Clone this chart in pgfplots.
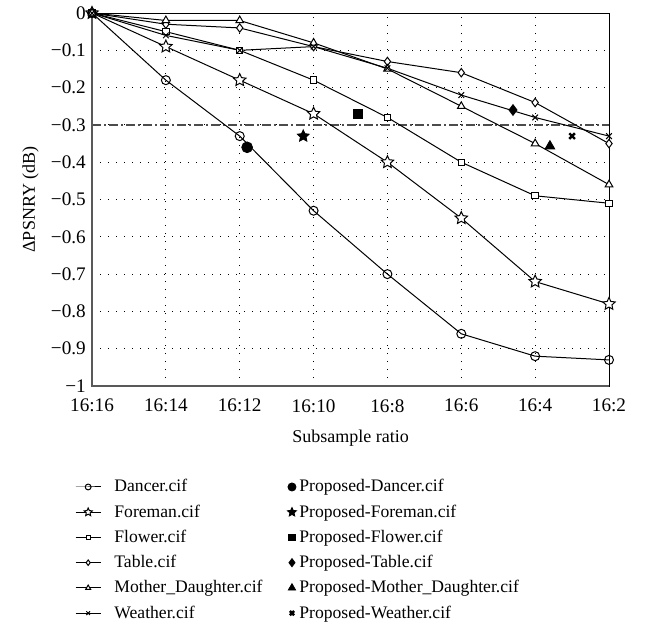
\documentclass[border=0pt]{standalone}
\usepackage{fontspec}
\setmainfont{Liberation Serif}
\usepackage{pgfplots}
\pgfplotsset{compat=1.18}
\pgfdeclareplotmark{ostar}{%
 \pgfpathmoveto{\pgfpointpolar{90}{1.25\pgfplotmarksize}}%
 \pgfpathlineto{\pgfpointpolar{126}{0.6\pgfplotmarksize}}%
 \pgfpathlineto{\pgfpointpolar{162}{1.25\pgfplotmarksize}}%
 \pgfpathlineto{\pgfpointpolar{198}{0.6\pgfplotmarksize}}%
 \pgfpathlineto{\pgfpointpolar{234}{1.25\pgfplotmarksize}}%
 \pgfpathlineto{\pgfpointpolar{270}{0.6\pgfplotmarksize}}%
 \pgfpathlineto{\pgfpointpolar{306}{1.25\pgfplotmarksize}}%
 \pgfpathlineto{\pgfpointpolar{342}{0.6\pgfplotmarksize}}%
 \pgfpathlineto{\pgfpointpolar{18}{1.25\pgfplotmarksize}}%
 \pgfpathlineto{\pgfpointpolar{54}{0.6\pgfplotmarksize}}%
 \pgfpathclose
 \pgfusepathqfillstroke}
\pgfplotsset{
 lin/.style={black, line width=0.5pt, mark options={solid, fill=white, line width=0.5pt},
   legend image code/.code={\draw[mark repeat=2,mark phase=2,##1,/tikz/every mark/.append style={scale=0.65}] plot coordinates {(0cm,0cm) (0.22cm,0cm) (0.44cm,0cm)}; \path (0.62cm,0cm);}},
 prop/.style={black, only marks, mark options={fill=black},
   legend image code/.code={\draw[##1,/tikz/every mark/.append style={scale=0.75}] plot coordinates {(0.1cm,0cm)};}},
}
\begin{document}
\fontsize{8.8}{10.5}\selectfont
\begin{tikzpicture}
\begin{axis}[
 scale only axis, width=258.5pt, height=186.5pt,
 xmin=0, xmax=7, ymin=-1, ymax=0,
 xtick={0,...,7},
 xticklabels={16:16,16:14,16:12,16:10,16:8,16:6,16:4,16:2},
 ytick={-1,-0.9,-0.8,-0.7,-0.6,-0.5,-0.4,-0.3,-0.2,-0.1,0},
 yticklabels={−1,−0.9,−0.8,−0.7,−0.6,−0.5,−0.4,−0.3,−0.2,−0.1,0},
 major tick length=0pt,
 tick label style={font=\fontsize{9.6}{11}\selectfont},
 label style={font=\fontsize{9}{11}\selectfont},
 xticklabel style={yshift=-3.5pt},
 grid=major,
 major grid style={black, line width=0.5pt, dash pattern=on 0.5pt off 3.5pt},
 axis line style={black, line width=0.5pt},
 xlabel={Subsample ratio},
 ylabel={ΔPSNRY (dB)},
 xlabel style={yshift=-3pt},
 clip=false,
 legend columns=2,
 legend style={draw=none, fill=none, at={(axis description cs:-0.045,-0.228)}, anchor=north west,
   font=\fontsize{8.8}{10.5}\selectfont, row sep=1.1pt, nodes={inner xsep=1.5pt},
   /tikz/every even column/.append style={column sep=11pt}},
 legend cell align=left,
]
\addplot[forget plot, gray!60!black, line width=0.8pt, dash pattern=on 4.5pt off 1.6pt on 0.8pt off 1.6pt] coordinates {(0,-0.3) (7,-0.3)};
\addplot[lin, mark=o, mark size=2.25pt] coordinates {(0,0) (1,-0.18) (2,-0.33) (3,-0.53) (4,-0.70) (5,-0.86) (6,-0.92) (7,-0.93)};
\addlegendentry{Dancer.cif}
\addplot[prop, mark=*, mark size=2.7pt] coordinates {(2.1,-0.36)};
\addlegendentry{Proposed-Dancer.cif}
\addplot[lin, mark=ostar, mark size=2.6pt] coordinates {(0,0) (1,-0.09) (2,-0.18) (3,-0.27) (4,-0.40) (5,-0.55) (6,-0.72) (7,-0.78)};
\addlegendentry{Foreman.cif}
\addplot[prop, mark=ostar, mark size=2.5pt] coordinates {(2.86,-0.33)};
\addlegendentry{Proposed-Foreman.cif}
\addplot[lin, mark=square*, mark size=1.6pt] coordinates {(0,0) (1,-0.05) (2,-0.10) (3,-0.18) (4,-0.28) (5,-0.40) (6,-0.49) (7,-0.51)};
\addlegendentry{Flower.cif}
\addplot[prop, mark=square*, mark size=2.1pt] coordinates {(3.6,-0.27)};
\addlegendentry{Proposed-Flower.cif}
\addplot[lin, mark=diamond*, mark size=2.1pt] coordinates {(0,0) (1,-0.03) (2,-0.04) (3,-0.09) (4,-0.13) (5,-0.16) (6,-0.24) (7,-0.35)};
\addlegendentry{Table.cif}
\addplot[prop, mark=diamond*, mark size=2.7pt] coordinates {(5.7,-0.26)};
\addlegendentry{Proposed-Table.cif}
\addplot[lin, mark=triangle*, mark size=2.2pt] coordinates {(0,0) (1,-0.02) (2,-0.02) (3,-0.08) (4,-0.15) (5,-0.25) (6,-0.35) (7,-0.46)};
\addlegendentry{Mother\_Daughter.cif}
\addplot[prop, mark=triangle*, mark size=2.8pt] coordinates {(6.2,-0.357)};
\addlegendentry{Proposed-Mother\_Daughter.cif}
\addplot[lin, mark=x, mark size=2pt] coordinates {(0,0) (1,-0.06) (2,-0.10) (3,-0.09) (4,-0.148) (5,-0.22) (6,-0.28) (7,-0.33)};
\addlegendentry{Weather.cif}
\addplot[prop, mark=x, mark size=2pt, mark options={line width=1.2pt}] coordinates {(6.5,-0.33)};
\addlegendentry{Proposed-Weather.cif}
\draw[gray!70!black, line width=1pt] (rel axis cs:0,1) -- (rel axis cs:0,0) -- (rel axis cs:1,0);
\coordinate (bbsw) at (rel axis cs:-0.178,-0.6488);
\coordinate (bbne) at (rel axis cs:1.0716,1.0349);
\end{axis}
\pgfresetboundingbox
\path (bbsw) rectangle (bbne);
\end{tikzpicture}
\end{document}
